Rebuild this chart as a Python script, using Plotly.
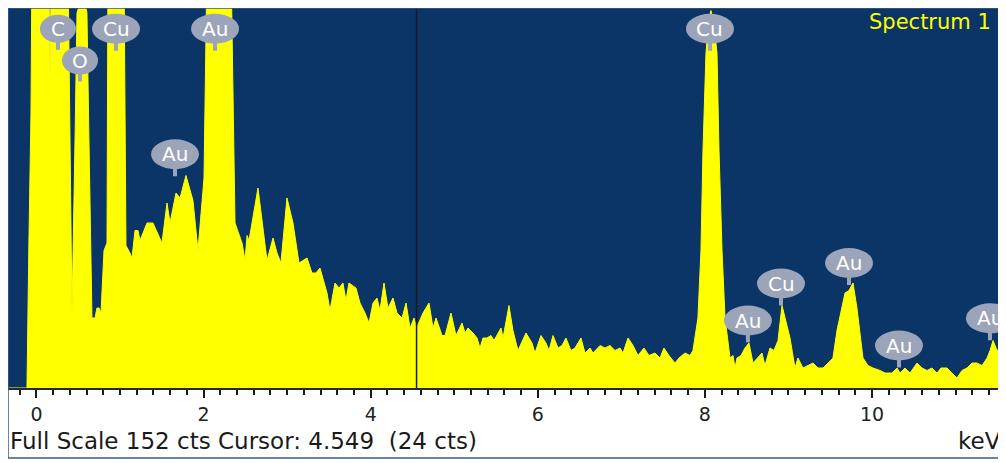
import plotly.graph_objects as go

# ---- spectrum data (keV, counts) ----
energy_kev = [
    -0.353, -0.114, -0.090, -0.066, -0.054, 0.102, 0.150, 0.162, 0.174, 0.221,
    0.377, 0.401, 0.425, 0.461, 0.485, 0.557, 0.604, 0.628, 0.652, 0.664,
    0.700, 0.724, 0.748, 0.772, 0.808, 0.844, 0.856, 0.952, 1.047, 1.071,
    1.119, 1.143, 1.179, 1.215, 1.239, 1.323, 1.394, 1.502, 1.562, 1.598,
    1.670, 1.718, 1.789, 1.873, 1.933, 2.005, 2.041, 2.137, 2.328, 2.376,
    2.460, 2.496, 2.520, 2.544, 2.651, 2.735, 2.759, 2.831, 2.879, 2.926,
    2.998, 3.070, 3.142, 3.238, 3.297, 3.345, 3.393, 3.477, 3.513, 3.573,
    3.621, 3.668, 3.704, 3.740, 3.824, 3.872, 3.932, 3.980, 4.028, 4.075,
    4.111, 4.159, 4.207, 4.267, 4.315, 4.375, 4.423, 4.471, 4.519, 4.549,
    4.626, 4.698, 4.746, 4.782, 4.854, 4.890, 4.961, 5.021, 5.093, 5.129,
    5.165, 5.225, 5.273, 5.308, 5.344, 5.392, 5.440, 5.476, 5.560, 5.584,
    5.655, 5.703, 5.763, 5.859, 5.931, 5.966, 6.038, 6.098, 6.134, 6.182,
    6.242, 6.290, 6.337, 6.397, 6.445, 6.517, 6.565, 6.625, 6.661, 6.745,
    6.804, 6.864, 6.924, 6.984, 7.020, 7.080, 7.140, 7.199, 7.271, 7.331,
    7.403, 7.463, 7.510, 7.570, 7.642, 7.690, 7.762, 7.822, 7.857, 7.917,
    7.953, 7.977, 8.013, 8.049, 8.073, 8.109, 8.145, 8.169, 8.205, 8.241,
    8.265, 8.301, 8.337, 8.360, 8.384, 8.432, 8.480, 8.528, 8.576, 8.624,
    8.683, 8.719, 8.779, 8.827, 8.875, 8.923, 8.959, 9.019, 9.078, 9.114,
    9.174, 9.234, 9.294, 9.354, 9.414, 9.474, 9.533, 9.581, 9.641, 9.677,
    9.725, 9.773, 9.820, 9.856, 9.892, 9.952, 10.012, 10.096, 10.156, 10.239,
    10.299, 10.335, 10.395, 10.455, 10.539, 10.599, 10.658, 10.718, 10.778, 10.826,
    10.898, 10.957, 11.017, 11.077, 11.137, 11.197, 11.257, 11.317, 11.377, 11.413,
    11.449, 11.497, 11.557, 11.605,
]
counts = [
    0, 0, 60, 110, 170, 175, 160, 125, 160, 200,
    170, 99, 30, 99, 150, 158, 150, 99, 40, 28,
    28, 32, 32, 30, 55, 58, 170, 200, 170, 57,
    54, 52, 63, 63, 59, 66, 66, 58, 74, 66,
    78, 76, 85, 75, 55, 84, 170, 200, 170, 66,
    58, 51, 61, 59, 80, 59, 51, 60, 54, 50,
    76, 66, 50, 52, 46, 46, 48, 38, 31, 42,
    40, 42, 35, 42, 40, 34, 30, 26, 34, 36,
    31, 42, 32, 36, 30, 28, 34, 24, 28, 24,
    30, 34, 24, 28, 21, 21, 30, 21, 26, 22,
    24, 22, 20, 16, 20, 20, 21, 19, 24, 20,
    33, 23, 15, 22, 18, 14, 21, 18, 15, 21,
    16, 17, 20, 15, 16, 20, 14, 16, 14, 17,
    16, 17, 15, 16, 14, 20, 17, 13, 16, 13,
    14, 12, 16, 13, 10, 12, 14, 13, 15, 28,
    55, 95, 134, 148, 151, 145, 134, 95, 55, 28,
    22, 12, 13, 8, 12, 13, 16, 18, 10, 12,
    14, 9, 16, 15, 19, 33, 28, 20, 8, 12,
    8, 9, 10, 8, 8, 10, 12, 23, 32, 38,
    39, 42, 32, 22, 12, 9, 8, 7, 6, 6,
    8, 6, 8, 6, 10, 8, 7, 8, 6, 8,
    8, 6, 4, 7, 8, 10, 10, 9, 12, 15,
    19, 15, 16, 13,
]

# ---- element labels ----
label_text = ["C", "O", "Cu", "Au", "Au", "Cu", "Au", "Cu", "Au", "Au", "Au"]
label_kev = [0.257, 0.521, 0.952, 2.137, 1.658, 8.061, 8.515, 8.911, 9.725, 10.323, 11.412]
label_cts = [143.7, 131.0, 143.7, 143.7, 93.5, 143.7, 27.0, 41.8, 50.0, 17.0, 27.9]

tick_vals = [0, 2, 4, 6, 8, 10]
tick_text = ["0", "2", "4", "6", "8", "10"]

full_scale = 152
cursor_kev = 4.549
cursor_cts = 24
x_range = [-0.341, 11.592]

BG = "#0a3566"
YEL = "#ffff00"
LBL = "#9ba4b8"
FONT = "DejaVu Sans"

fig = go.Figure()
fig.add_trace(go.Scatter(
    x=energy_kev, y=counts, mode="lines", fill="tozeroy",
    line=dict(color=YEL, width=1), fillcolor=YEL, hoverinfo="skip",
))

shapes = []
annotations = []
for t, xk, yc in zip(label_text, label_kev, label_cts):
    hw = 18 if len(t) == 1 else 24
    hh = 14 if len(t) == 1 else 15
    # stem
    shapes.append(dict(type="rect", xref="x", yref="y",
                       xsizemode="pixel", ysizemode="pixel",
                       xanchor=xk, yanchor=yc, x0=-2, x1=2, y0=-hh - 7, y1=0,
                       fillcolor=LBL, line=dict(width=0), layer="above"))
    shapes.append(dict(type="circle", xref="x", yref="y",
                       xsizemode="pixel", ysizemode="pixel",
                       xanchor=xk, yanchor=yc, x0=-hw, x1=hw, y0=-hh, y1=hh,
                       fillcolor=LBL, line=dict(width=0), layer="above"))
    annotations.append(dict(x=xk, y=yc, xref="x", yref="y", text=t, showarrow=False,
                            font=dict(family=FONT, size=20, color="white"),
                            xanchor="center", yanchor="middle"))

# cursor
shapes.append(dict(type="line", xref="x", yref="paper", x0=cursor_kev, x1=cursor_kev,
                   y0=0, y1=1, line=dict(color="#1a1a1a", width=1.5), layer="above"))
# outer border
shapes.append(dict(type="rect", xref="paper", yref="paper", x0=0, x1=0.998,
                   y0=-0.184, y1=1, line=dict(color="#3c5a80", width=1.5),
                   fillcolor="rgba(0,0,0,0)", layer="above"))

annotations.append(dict(xref="paper", yref="paper", x=0.988, y=0.963, text="Spectrum 1",
                        showarrow=False, xanchor="right", yanchor="middle",
                        font=dict(family=FONT, size=21, color=YEL)))
annotations.append(dict(xref="paper", yref="paper", x=0.0, y=-0.139,
                        text=f"Full Scale {full_scale} cts Cursor: {cursor_kev:.3f}\u00a0\u00a0({cursor_cts} cts)",
                        showarrow=False, xanchor="left", yanchor="middle",
                        font=dict(family=FONT, size=23, color="#1a1a1a")))
annotations.append(dict(xref="paper", yref="paper", x=0.998, y=-0.139, text="keV",
                        showarrow=False, xanchor="right", yanchor="middle",
                        font=dict(family=FONT, size=23, color="#1a1a1a")))

fig.update_layout(
    width=998, height=455,
    margin=dict(l=0, r=1, t=0, b=75),
    paper_bgcolor="white", plot_bgcolor=BG,
    showlegend=False,
    shapes=shapes, annotations=annotations,
    xaxis=dict(range=x_range, showgrid=False, zeroline=False,
               showline=True, linecolor="#1f2a44", linewidth=2,
               ticks="outside", ticklen=8, tickwidth=2, tickcolor="#1a1a1a",
               tickvals=tick_vals, ticktext=tick_text,
               tickfont=dict(family=FONT, size=19, color="#222222"),
               minor=dict(dtick=0.2, tick0=0, ticks="outside", ticklen=5,
                          tickwidth=1.5, tickcolor="#1a1a1a", showgrid=False),
               fixedrange=True),
    yaxis=dict(range=[0, full_scale], visible=False, fixedrange=True),
)

fig.write_html("out.html")
